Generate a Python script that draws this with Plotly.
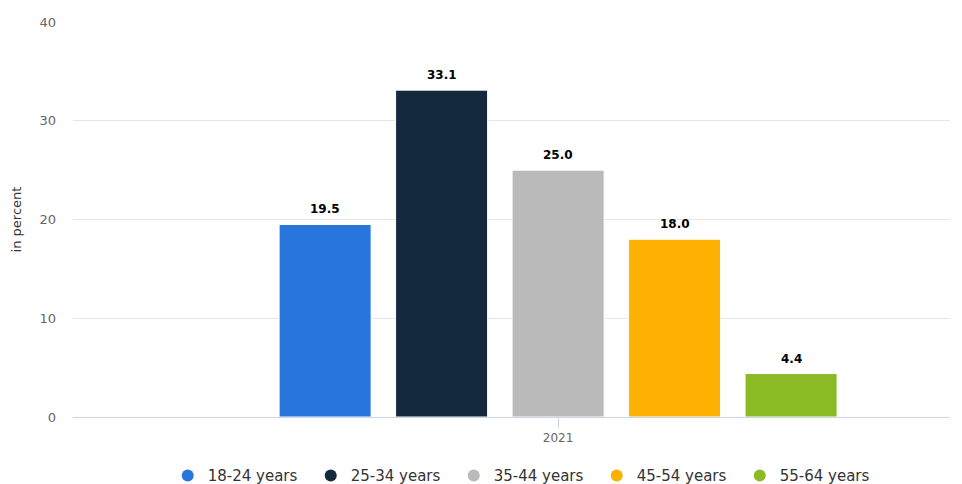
import plotly.graph_objects as go

# Share of respondents by age group, 2021
year_labels = ["2021"]
age_groups = ["18-24 years", "25-34 years", "35-44 years", "45-54 years", "55-64 years"]
shares = [19.5, 33.1, 25.0, 18.0, 4.4]
colors = ["#2876dd", "#14283e", "#bababa", "#feb100", "#8abb25"]

y_ticks = [0, 10, 20, 30, 40]

FONT = "DejaVu Sans"

# Each age group gets a slot inside the single year group
GROUP_WIDTH = 0.70
SLOT = GROUP_WIDTH / len(age_groups)
BAR_WIDTH = SLOT * 0.79

fig = go.Figure()

for i, (name, val, col) in enumerate(zip(age_groups, shares, colors)):
    offset = -GROUP_WIDTH / 2 + i * SLOT + (SLOT - BAR_WIDTH) / 2
    fig.add_trace(go.Bar(
        x=[0], y=[val], name=name, width=[BAR_WIDTH], offset=[offset],
        marker=dict(color=col, line=dict(color="#ffffff", width=1)),
        showlegend=False, hoverinfo="skip",
    ))
    fig.add_annotation(
        x=offset + BAR_WIDTH / 2, y=val, text=f"<b>{val:.1f}</b>",
        showarrow=False, yanchor="bottom", yshift=6,
        font=dict(family=FONT, size=12, color="#000000"),
    )

# Legend entries drawn with round markers
for name, col in zip(age_groups, colors):
    fig.add_trace(go.Scatter(
        x=[None], y=[None], mode="markers", name=name,
        marker=dict(symbol="circle", size=14, color=col),
        showlegend=True, hoverinfo="skip",
    ))

fig.update_layout(
    width=962, height=484,
    margin=dict(l=73, r=12, t=22, b=67, autoexpand=False),
    paper_bgcolor="#ffffff", plot_bgcolor="#ffffff",
    font=dict(family=FONT, size=12, color="#666666"),
    xaxis=dict(
        range=[-0.583, 0.471], tickvals=[0], ticktext=year_labels,
        showgrid=False, zeroline=False, showline=True, linecolor="#ccd6eb", linewidth=1,
        ticks="outside", ticklen=10, tickcolor="#ccd6eb",
        tickfont=dict(family=FONT, size=12, color="#666666"),
    ),
    yaxis=dict(
        range=[0, 40], tickvals=y_ticks, showgrid=True, gridcolor="#e6e6e6", gridwidth=1,
        zeroline=False, showline=False, ticks="", ticklabelstandoff=16,
        tickfont=dict(family=FONT, size=13, color="#666666"),
        title=dict(text="in percent", font=dict(family=FONT, size=13, color="#333333"), standoff=14),
    ),
    legend=dict(
        orientation="h", x=0.108, xanchor="left", y=-0.149, yanchor="middle",
        font=dict(family=FONT, size=15, color="#333333"),
        entrywidth=98, itemsizing="constant", traceorder="normal",
    ),
)

fig.write_html("out.html")
